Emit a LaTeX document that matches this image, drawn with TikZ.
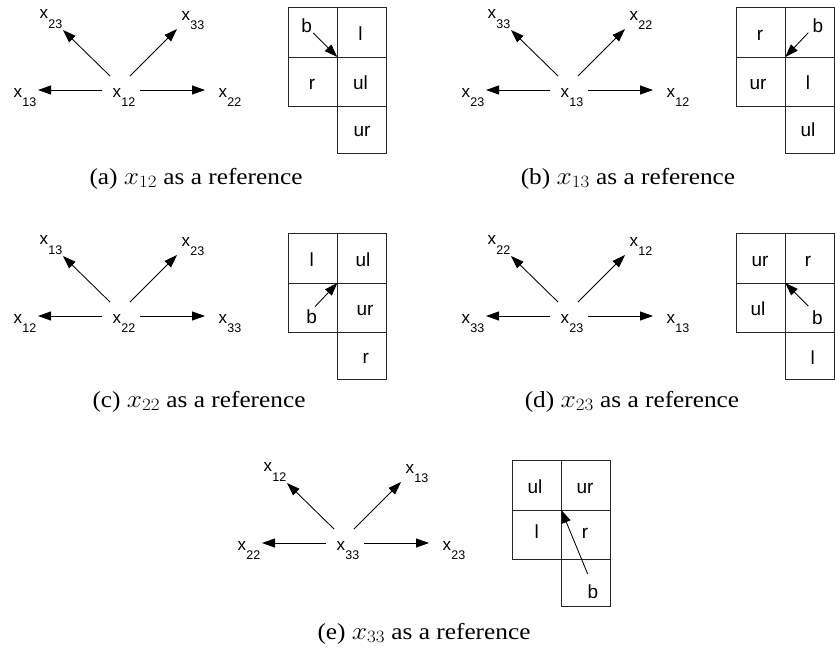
\documentclass[tikz,border=0pt]{standalone}
\usepackage{fontspec}
\setmainfont{Liberation Serif}
\newfontfamily\arialf{Liberation Sans}
\usetikzlibrary{arrows.meta}
\newcommand\xlab[1]{\arialf\fontsize{17}{17}\selectfont x\kern0.4pt\raisebox{-9.5pt}{\fontsize{12.5}{12.5}\selectfont #1}}
\newcommand\captext[1]{\scalebox{1.1}[1]{#1}}
\tikzset{
  lab/.style={anchor=base west,inner sep=0pt,outer sep=0pt},
  arr/.style={line width=0.85pt,-{Triangle[length=13pt,width=9pt]}},
  cell/.style={draw=black!85,line width=1pt,minimum width=49.3pt,minimum height=49.5pt,inner sep=0pt,outer sep=0pt},
  celltxt/.style={anchor=base,inner sep=0pt,font=\arialf\fontsize{19}{19}\selectfont},
  captxt/.style={anchor=base,inner sep=0pt,font=\fontsize{23}{25}\selectfont}
}
\newcommand\starpanel[6]{%
  \node[lab] (#1c) at (112.5,97) {\xlab{#2}};
  \node[lab] (#1l) at (13.5,97) {\xlab{#3}};
  \node[lab] (#1r) at (218.5,97) {\xlab{#4}};
  \node[lab] (#1u) at (39.5,18.5) {\xlab{#5}};
  \node[lab] (#1v) at (181.5,20) {\xlab{#6}};
  \draw[arr] ([shift={(-10.5,-7)}]#1c.base west) -- ([shift={(24.5,-7)}]#1l.base west);
  \draw[arr] ([shift={(27.5,-7)}]#1c.base west) -- ([shift={(-13.5,-7)}]#1r.base west);
  \draw[arr] ([shift={(-2.5,-21)}]#1c.base west) -- ([shift={(23.5,11.5)}]#1u.base west);
  \draw[arr] ([shift={(17.5,-21)}]#1c.base west) -- ([shift={(-4.5,9)}]#1v.base west);
}
\newcommand\gridcells[1]{%
  \node[cell] (#1tl) at (312.65,32.25) {};
  \node[cell] (#1tr) at (361.95,32.25) {};
  \node[cell] (#1ml) at (312.65,81.75) {};
  \node[cell] (#1mr) at (361.95,81.75) {};
  \node[cell,minimum height=46.5pt] (#1br) at (361.95,129.75) {};
  \coordinate (#1j) at (#1tl.south east);
}
\begin{document}
\begin{tikzpicture}[x=1pt,y=-1pt]
\useasboundingbox[fill=white] (0,0) rectangle (835,649);

% (a)
\begin{scope}
  \starpanel{a}{12}{13}{22}{23}{33}
  \gridcells{ag}
  \node[celltxt] (agb) at (306.7,32) {b};
  \node[celltxt] (ag2) at (360.5,40) {l};
  \node[celltxt] (ag3) at (312,89.5) {r};
  \node[celltxt] (ag4) at (360.5,89.5) {ul};
  \node[celltxt] (ag5) at (362,136) {ur};
  \draw[arr] ([shift={(6.5,1)}]agb.base) -- (agj);
\end{scope}
\node[captxt] (capa) at (196,184) {\captext{(a) $x_{12}$ as a reference}};

% (b)
\begin{scope}[shift={(448,0)}]
  \starpanel{b}{13}{23}{12}{33}{22}
  \gridcells{bg}
  \node[celltxt] (bg1) at (312,40) {r};
  \node[celltxt] (bgb) at (370,32) {b};
  \node[celltxt] (bg3) at (310,89.5) {ur};
  \node[celltxt] (bg4) at (360,89.5) {l};
  \node[celltxt] (bg5) at (360,136) {ul};
  \draw[arr] ([shift={(-9.7,0.7)}]bgb.base) -- (bgj);
\end{scope}
\node[captxt] (capb) at (628,184) {\captext{(b) $x_{13}$ as a reference}};

% (c)
\begin{scope}[shift={(0,226)}]
  \starpanel{c}{22}{12}{33}{13}{23}
  \gridcells{cg}
  \node[celltxt] (cg1) at (311.7,40) {l};
  \node[celltxt] (cg2) at (363,40) {ul};
  \node[celltxt] (cgb) at (311.7,97) {b};
  \node[celltxt] (cg4) at (365,89.5) {ur};
  \node[celltxt] (cg5) at (365.7,137) {r};
  \draw[arr] ([shift={(3.3,-16.3)}]cgb.base) -- (cgj);
\end{scope}
\node[captxt] (capc) at (199,407) {\captext{(c) $x_{22}$ as a reference}};

% (d)
\begin{scope}[shift={(448,226)}]
  \starpanel{d}{23}{33}{13}{22}{12}
  \gridcells{dg}
  \node[celltxt] (dg1) at (312,40) {ur};
  \node[celltxt] (dg2) at (360,40) {r};
  \node[celltxt] (dg3) at (310,89.5) {ul};
  \node[celltxt] (dgb) at (369.5,98) {b};
  \node[celltxt] (dg5) at (364.7,138) {l};
  \draw[arr] ([shift={(-9.2,-18)}]dgb.base) -- (dgj);
\end{scope}
\node[captxt] (capd) at (632,407) {\captext{(d) $x_{23}$ as a reference}};

% (e)
\begin{scope}[shift={(224,453)}]
  \starpanel{e}{33}{22}{23}{12}{13}
  \gridcells{eg}
  \node[celltxt] (eg1) at (311,40) {ul};
  \node[celltxt] (eg2) at (361,40) {ur};
  \node[celltxt] (eg3) at (312.7,85.5) {l};
  \node[celltxt] (eg4) at (361,85.5) {r};
  \node[celltxt] (egb) at (369,145) {b};
  \draw[arr] ([shift={(-5.3,-24)}]egb.base) -- (egj);
\end{scope}
\node[captxt] (cape) at (424,639) {\captext{(e) $x_{33}$ as a reference}};
\end{tikzpicture}
\end{document}
